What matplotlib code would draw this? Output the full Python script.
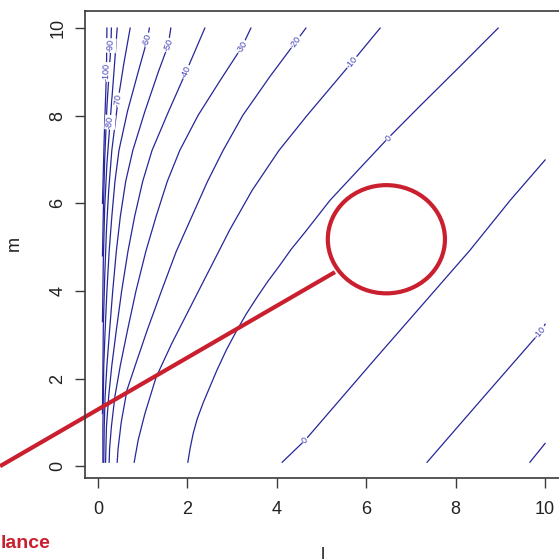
import numpy as np
import matplotlib
matplotlib.use("Agg")
import matplotlib.pyplot as plt
from matplotlib.patches import Ellipse

plt.rcParams["font.family"] = ["Liberation Sans", "DejaVu Sans"]

# contour lines, (l, m) points, top end first
lev_0a_l = [8.95, 8.10, 7.20, 6.49, 5.82, 5.19, 4.63, 4.32, 4.07, 3.80, 3.56, 3.32, 3.11,
            2.87, 2.66, 2.49, 2.35, 2.22, 2.13, 2.06, 2.01]
lev_0a_m = [10.0, 9.13, 8.22, 7.49, 6.76, 6.07, 5.34, 4.95, 4.59, 4.22, 3.86, 3.48, 3.11,
            2.65, 2.19, 1.78, 1.44, 1.08, 0.75, 0.40, 0.09]
lev_0b_l = [10.0, 9.22, 8.32, 6.20, 4.63, 4.12]
lev_0b_m = [6.99, 6.07, 4.93, 2.45, 0.59, 0.09]
lev_m10b_l = [10.0, 9.89, 8.60, 7.36]
lev_m10b_m = [3.24, 3.06, 1.55, 0.09]
lev_m20b_l = [10.0, 9.66]
lev_m20b_m = [0.52, 0.09]
lev_m10_l = [6.31, 5.68, 4.68, 4.05, 3.45, 2.95, 2.50, 2.05, 1.65, 1.30, 1.05, 0.90, 0.81]
lev_m10_m = [10.0, 9.22, 8.01, 7.21, 6.30, 5.40, 4.50, 3.60, 2.80, 2.03, 1.20, 0.60, 0.09]
lev_m20_l = [4.65, 4.42, 3.85, 3.24, 2.80, 2.45, 2.10, 1.75, 1.42, 1.10, 0.85, 0.65, 0.52,
             0.45, 0.43]
lev_m20_m = [10.0, 9.68, 8.90, 8.01, 7.21, 6.50, 5.70, 4.90, 4.00, 3.10, 2.35, 1.74, 1.00,
             0.40, 0.09]
lev_m30_l = [3.42, 3.22, 2.73, 2.24, 1.83, 1.55, 1.30, 1.07, 0.85, 0.66, 0.50, 0.38, 0.30,
             0.26, 0.25]
lev_m30_m = [10.0, 9.57, 8.80, 8.01, 7.21, 6.50, 5.70, 4.90, 4.00, 3.10, 2.30, 1.60, 0.90,
             0.40, 0.09]
lev_m40_l = [2.39, 1.97, 1.58, 1.21, 1.00, 0.82, 0.67, 0.53, 0.41, 0.31, 0.24, 0.19, 0.17]
lev_m40_m = [10.0, 9.00, 8.10, 7.21, 6.50, 5.70, 4.90, 4.00, 3.10, 2.30, 1.60, 0.90, 0.09]
lev_m50_l = [1.63, 1.57, 1.35, 1.05, 0.78, 0.62, 0.50, 0.41, 0.33, 0.26, 0.20, 0.16, 0.14,
             0.13]
lev_m50_m = [10.0, 9.61, 9.00, 8.10, 7.21, 6.50, 5.70, 4.90, 4.00, 3.10, 2.30, 1.60, 0.90,
             0.09]
lev_m60_l = [1.15, 1.10, 0.90, 0.66, 0.47, 0.38, 0.31, 0.25, 0.20, 0.16, 0.13, 0.12, 0.11,
             0.11]
lev_m60_m = [10.0, 9.73, 9.00, 8.10, 7.21, 6.50, 5.70, 4.90, 4.00, 3.10, 2.30, 1.60, 0.90,
             0.09]
lev_m70_l = [0.72, 0.58, 0.45, 0.31, 0.24, 0.19, 0.15, 0.12, 0.11, 0.10]
lev_m70_m = [10.0, 9.20, 8.36, 7.21, 6.30, 5.40, 4.30, 3.20, 2.20, 1.20]
lev_m80_l = [0.43, 0.35, 0.27, 0.20, 0.15, 0.12, 0.10]
lev_m80_m = [10.0, 8.90, 7.85, 6.90, 5.90, 4.70, 3.30]
lev_m90_l = [0.30, 0.29, 0.25, 0.20, 0.15, 0.12, 0.10]
lev_m90_m = [10.0, 9.60, 9.00, 8.20, 7.00, 5.80, 4.80]
lev_m100_l = [0.20, 0.19, 0.14, 0.10]
lev_m100_m = [10.0, 9.00, 7.50, 6.00]

# inline labels: text and where it sits
lab_txt = ["0", "0", "-10", "-10", "-20", "-30", "-40", "-50", "-60", "-70", "-80", "-90", "-100"]
lab_l = [6.49, 4.63, 9.89, 5.68, 4.42, 3.22, 1.97, 1.57, 1.10, 0.45, 0.27, 0.29, 0.19]
lab_m = [7.49, 0.59, 3.06, 9.22, 9.68, 9.57, 9.00, 9.61, 9.73, 8.36, 7.85, 9.60, 9.00]

lines = [
    (lev_0a_l, lev_0a_m), (lev_0b_l, lev_0b_m), (lev_m10b_l, lev_m10b_m),
    (lev_m10_l, lev_m10_m), (lev_m20_l, lev_m20_m), (lev_m30_l, lev_m30_m),
    (lev_m40_l, lev_m40_m), (lev_m50_l, lev_m50_m), (lev_m60_l, lev_m60_m),
    (lev_m70_l, lev_m70_m), (lev_m80_l, lev_m80_m), (lev_m90_l, lev_m90_m),
    (lev_m100_l, lev_m100_m), (lev_m20b_l, lev_m20b_m),
]

LINE_COL = "#26269a"
LAB_COL = "#4040b8"
RED = "#c91f2e"
W = 559

fig = plt.figure(figsize=(5.59, 5.59), dpi=100)
ax = fig.add_axes([85 / W, 81 / W, 478 / W, 467 / W])
ax.set_xlim(-0.29, 10.4)
ax.set_ylim(-0.27, 10.39)

for ll, mm in lines:
    ax.plot(ll, mm, color=LINE_COL, lw=0.9, solid_joinstyle="round")

fig.canvas.draw()
for i, txt in enumerate(lab_txt):
    ll, mm = lines[i]
    pts = ax.transData.transform(np.column_stack([ll, mm]))
    p = ax.transData.transform((lab_l[i], lab_m[i]))
    d = np.hypot(*(pts - p).T)
    k = int(np.argmin(d))
    a, b = (k, k + 1) if k + 1 < len(pts) else (k - 1, k)
    dx, dy = pts[b] - pts[a]
    ang = np.degrees(np.arctan2(dy, dx))
    if ang > 90:
        ang -= 180
    elif ang < -90:
        ang += 180
    ax.text(lab_l[i], lab_m[i], txt, rotation=ang, rotation_mode="anchor",
            ha="center", va="center", fontsize=6.5, color=LAB_COL,
            bbox=dict(fc="white", ec="none", pad=0.6))

for s in ax.spines.values():
    s.set_color("#3a3a3a")
    s.set_linewidth(1.2)
ax.set_xticks([0, 2, 4, 6, 8, 10])
ax.set_yticks([0, 2, 4, 6, 8, 10])
ax.tick_params(direction="out", length=7.5, width=1, color="#3a3a3a",
               labelsize=13, labelcolor="#222222")
ax.tick_params(axis="x", pad=9)
ax.tick_params(axis="y", pad=6)
for t in ax.get_yticklabels():
    t.set_rotation(90)
    t.set_va("center")

fig.text(323 / W, 1 - 560 / W, "l", fontsize=13, color="#222222",
         ha="center", va="baseline")
fig.text(14 / W, 1 - 243 / W, "m", fontsize=13, color="#222222",
         rotation=90, ha="center", va="center")

# red call-out drawn over the plot
ax.plot([-2.19, 5.30], [0.0, 4.43], color=RED, lw=3, clip_on=False,
        solid_capstyle="butt")
ax.add_patch(Ellipse((6.45, 5.18), 2.62, 2.47, fill=False, ec=RED, lw=3,
                     clip_on=False))
fig.text(0.5 / W, 1 - 548 / W, "lance", fontsize=14, fontweight="bold",
         color=RED, ha="left", va="baseline")

fig.savefig("out.png", dpi=100, facecolor="white")
